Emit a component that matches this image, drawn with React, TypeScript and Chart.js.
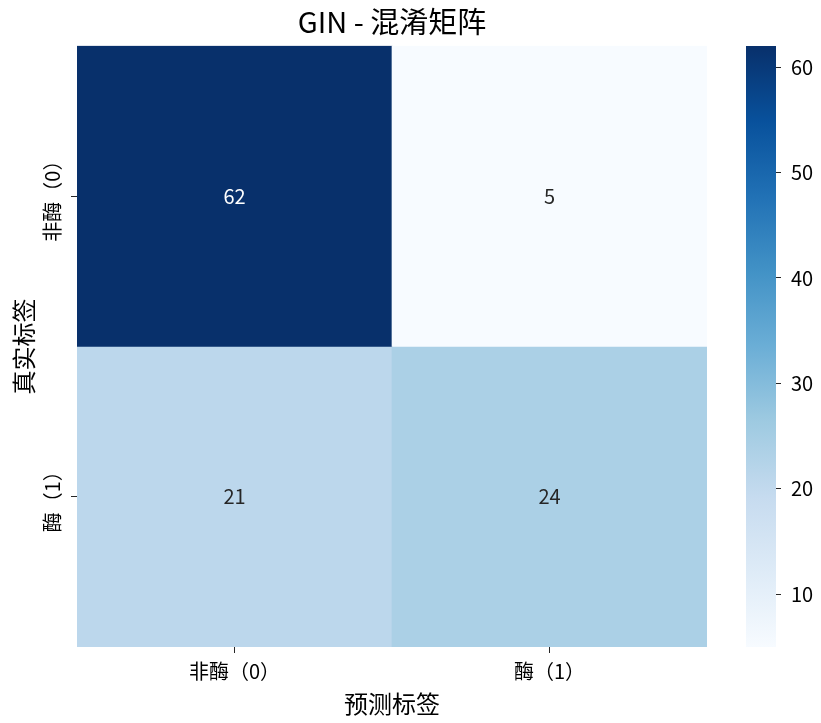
import { useEffect, useRef } from "react";
import { Chart, registerables } from "chart.js";

Chart.register(...registerables);

const FONT = "'Noto Sans CJK SC', 'Noto Sans', sans-serif";
const TEXT = "#000000";

const TITLE = "GIN - 混淆矩阵";
const X_TITLE = "预测标签";
const Y_TITLE = "真实标签";
const PRED_LABELS = ["非酶（0）", "酶（1）"];
const TRUE_LABELS = ["非酶（0）", "酶（1）"];
// one row per true class
const ROW_NON_ENZYME = [62, 5];
const ROW_ENZYME = [21, 24];
const MATRIX = [ROW_NON_ENZYME, ROW_ENZYME];
const COLORBAR_TICKS = [10, 20, 30, 40, 50, 60];

const V_MIN = Math.min(...MATRIX.flat());
const V_MAX = Math.max(...MATRIX.flat());

// matplotlib "Blues"
const BLUES = ["#f7fbff", "#deebf7", "#c6dbef", "#9ecae1", "#6baed6", "#4292c6", "#2171b5", "#08519c", "#08306b"];

function hexRgb(h: string) {
  return [1, 3, 5].map((i) => parseInt(h.slice(i, i + 2), 16));
}

function bluesRgb(t: number) {
  const n = BLUES.length - 1;
  const p = Math.max(0, Math.min(1, t)) * n;
  const i = Math.min(Math.floor(p), n - 1);
  const f = p - i;
  const a = hexRgb(BLUES[i]);
  const b = hexRgb(BLUES[i + 1]);
  return a.map((c, k) => c + (b[k] - c) * f);
}

const norm = (v: number) => (v - V_MIN) / (V_MAX - V_MIN);

function cellColor(v: number) {
  const [r, g, b] = bluesRgb(norm(v));
  return `rgb(${r.toFixed(0)},${g.toFixed(0)},${b.toFixed(0)})`;
}

// same rule seaborn uses to pick annotation colour
function annotColor(v: number) {
  const lin = bluesRgb(norm(v)).map((c) => {
    const s = c / 255;
    return s <= 0.03928 ? s / 12.92 : Math.pow((s + 0.055) / 1.055, 2.4);
  });
  const lum = 0.2126 * lin[0] + 0.7152 * lin[1] + 0.0722 * lin[2];
  return lum > 0.408 ? "#262626" : "#ffffff";
}

const annotations = {
  id: "annotations",
  afterDatasetsDraw(chart: any) {
    const { ctx } = chart;
    ctx.save();
    ctx.font = `20px ${FONT}`;
    ctx.textAlign = "center";
    ctx.textBaseline = "middle";
    chart.data.datasets.forEach((_: any, i: number) => {
      chart.getDatasetMeta(i).data.forEach((el: any, j: number) => {
        const v = MATRIX[i][j];
        const { x, y, base } = el.getProps(["x", "y", "base"], true);
        ctx.fillStyle = annotColor(v);
        ctx.fillText(String(v), x, (y + base) / 2);
      });
    });
    ctx.restore();
  },
};

// rotated tick labels for the true-label axis
const rotatedYTicks = {
  id: "rotatedYTicks",
  afterDraw(chart: any) {
    const s = chart.scales.yLab;
    if (!s) return;
    const { ctx } = chart;
    ctx.save();
    ctx.font = `20px ${FONT}`;
    ctx.fillStyle = TEXT;
    ctx.textAlign = "center";
    ctx.textBaseline = "middle";
    s.ticks.forEach((t: any, i: number) => {
      ctx.save();
      ctx.translate(s.right - 6 - 9 - 10, s.getPixelForTick(i));
      ctx.rotate(-Math.PI / 2);
      ctx.fillText(s.getLabelForValue(t.value), 0, 0);
      ctx.restore();
    });
    ctx.restore();
  },
};

function Heatmap() {
  const canvasRef = useRef<HTMLCanvasElement | null>(null);

  useEffect(() => {
    const canvas = canvasRef.current;
    if (!canvas) return;

    const chart = new Chart(canvas, {
      type: "bar",
      data: {
        labels: PRED_LABELS,
        datasets: MATRIX.map((row, i) => ({
          label: TRUE_LABELS[i],
          data: row.map((v, j) => ({ x: PRED_LABELS[j], y: [i, i + 1], v })) as any,
          backgroundColor: (c: any) => cellColor(c.raw ? c.raw.v : V_MIN),
          borderWidth: 0,
          barPercentage: 1,
          categoryPercentage: 1,
          grouped: false,
        })),
      },
      options: {
        responsive: true,
        maintainAspectRatio: false,
        animation: false,
        layout: { padding: { left: 0, right: 23, top: 0, bottom: 0 } },
        plugins: {
          legend: { display: false },
          tooltip: { enabled: false },
          title: {
            display: true,
            text: TITLE,
            fullSize: false,
            color: TEXT,
            font: { family: FONT, size: 29, weight: "normal" },
            padding: { top: 5, bottom: 6 },
          },
        },
        scales: {
          x: {
            type: "category",
            offset: true,
            grid: { offset: false, drawOnChartArea: false, tickLength: 6, tickColor: "#262626" },
            border: { display: false },
            ticks: { color: TEXT, font: { family: FONT, size: 20 }, padding: 6 },
            title: {
              display: true,
              text: X_TITLE,
              color: TEXT,
              font: { family: FONT, size: 24 },
              padding: { top: 0, bottom: 5 },
            },
            afterFit: (s: any) => {
              s.height = 76;
            },
          },
          y: { type: "linear", min: 0, max: MATRIX.length, reverse: true, display: false },
          yLab: {
            type: "category",
            labels: TRUE_LABELS,
            position: "left",
            offset: true,
            grid: { offset: false, drawOnChartArea: false, tickLength: 6, tickColor: "#262626" },
            border: { display: false },
            ticks: { display: false },
            title: {
              display: true,
              text: Y_TITLE,
              color: TEXT,
              font: { family: FONT, size: 24 },
              padding: { top: 9, bottom: 0 },
            },
            afterFit: (s: any) => {
              s.width = 77;
            },
          },
        } as any,
      },
      plugins: [annotations, rotatedYTicks],
    });

    return () => {
      chart.destroy();
    };
  }, []);

  return <canvas ref={canvasRef} />;
}

function ColorBar() {
  const canvasRef = useRef<HTMLCanvasElement | null>(null);

  useEffect(() => {
    const canvas = canvasRef.current;
    if (!canvas) return;

    const chart = new Chart(canvas, {
      type: "bar",
      data: {
        labels: [""],
        datasets: [
          {
            data: [[V_MIN, V_MAX]] as any,
            backgroundColor: (c: any) => {
              const y = c.chart.scales.y;
              if (!y || !c.chart.chartArea) return BLUES[4];
              const g = c.chart.ctx.createLinearGradient(0, y.getPixelForValue(V_MIN), 0, y.getPixelForValue(V_MAX));
              BLUES.forEach((hex, k) => g.addColorStop(k / (BLUES.length - 1), hex));
              return g;
            },
            borderWidth: 0,
            barPercentage: 1,
            categoryPercentage: 1,
          },
        ],
      },
      options: {
        responsive: true,
        maintainAspectRatio: false,
        animation: false,
        layout: { padding: { left: 16, right: 0, top: 46, bottom: 76 } },
        plugins: { legend: { display: false }, tooltip: { enabled: false } },
        scales: {
          x: { display: false },
          y: {
            position: "right",
            min: V_MIN,
            max: V_MAX,
            afterBuildTicks: (s: any) => {
              s.ticks = COLORBAR_TICKS.map((value) => ({ value }));
            },
            grid: { drawOnChartArea: false, tickLength: 5, tickColor: "#262626" },
            border: { display: false },
            ticks: { color: TEXT, font: { family: FONT, size: 20 }, padding: 10 },
            afterFit: (s: any) => {
              s.width = 45;
            },
          },
        },
      },
    });

    return () => {
      chart.destroy();
    };
  }, []);

  return <canvas ref={canvasRef} />;
}

export default function App() {
  return (
    <div style={{ position: "fixed", left: 0, top: 0, width: 821, height: 723, background: "#fff" }}>
      <div style={{ position: "absolute", left: 0, top: 0, width: 730, height: 723 }}>
        <Heatmap />
      </div>
      <div style={{ position: "absolute", left: 730, top: 0, width: 91, height: 723 }}>
        <ColorBar />
      </div>
    </div>
  );
}
